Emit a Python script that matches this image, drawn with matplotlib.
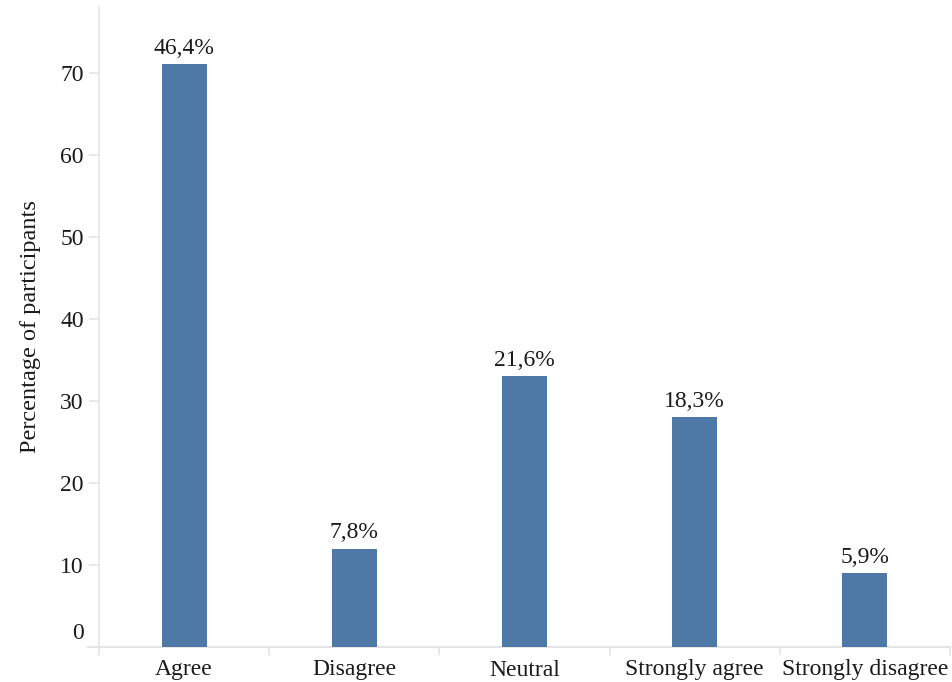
import matplotlib
matplotlib.use("Agg")
import matplotlib.pyplot as plt
import matplotlib.transforms as mtransforms
import numpy as np

categories = ["Agree", "Disagree", "Neutral", "Strongly agree", "Strongly disagree"]
counts = [71, 12, 33, 28, 9]
pct_labels = ["46,4%", "7,8%", "21,6%", "18,3%", "5,9%"]
y_ticks = [0, 10, 20, 30, 40, 50, 60, 70]

BAR_COLOR = "#4e79a7"
RULE_COLOR = "#e4e4e4"
TEXT_COLOR = "#1a1a1a"

plt.rcParams["font.family"] = ["Liberation Serif", "DejaVu Serif"]

fig = plt.figure(figsize=(9.53, 6.82), dpi=100)
fig.patch.set_facecolor("white")
W, H = 953, 682
ax = fig.add_axes([99 / W, 35 / H, (950 - 99) / W, (647 - 7) / H])

x = np.arange(len(categories))
ax.bar(x, counts, width=0.265, color=BAR_COLOR, zorder=2)

for xi, c, lab in zip(x, counts, pct_labels):
    ax.annotate(lab, (xi, c), xytext=(0, 4), textcoords="offset points",
                ha="center", va="bottom", fontsize=17, color=TEXT_COLOR)

ax.set_xlim(-0.5, len(categories) - 0.5)
ax.set_ylim(0, 78)

ax.set_xticks(x)
ax.set_xticklabels(categories, fontsize=17, color=TEXT_COLOR)
ax.set_xticks(np.arange(len(categories) + 1) - 0.5, minor=True)
ax.tick_params(axis="x", which="major", length=0, pad=9)
ax.tick_params(axis="x", which="minor", length=6, color=RULE_COLOR, width=1.2)

ax.set_yticks(y_ticks)
ax.set_yticklabels([str(t) for t in y_ticks], fontsize=17, color=TEXT_COLOR)
ax.tick_params(axis="y", length=7, color=RULE_COLOR, width=1.2, pad=4)
# lift the zero label off the baseline
zero_lbl = ax.get_yticklabels()[0]
zero_lbl.set_transform(zero_lbl.get_transform() +
                       mtransforms.ScaledTranslation(0, 16 / 100, fig.dpi_scale_trans))

ax.set_ylabel("Percentage of participants", fontsize=17.5, color=TEXT_COLOR, labelpad=14)

for side in ("top", "right"):
    ax.spines[side].set_visible(False)
ax.spines["left"].set_color(RULE_COLOR)
ax.spines["left"].set_linewidth(1.2)
ax.spines["bottom"].set_visible(False)
ax.axhline(0, xmin=-11 / 851, xmax=1, color=RULE_COLOR, linewidth=1.5, clip_on=False, zorder=1)

fig.savefig("out.png", dpi=100, facecolor="white")
